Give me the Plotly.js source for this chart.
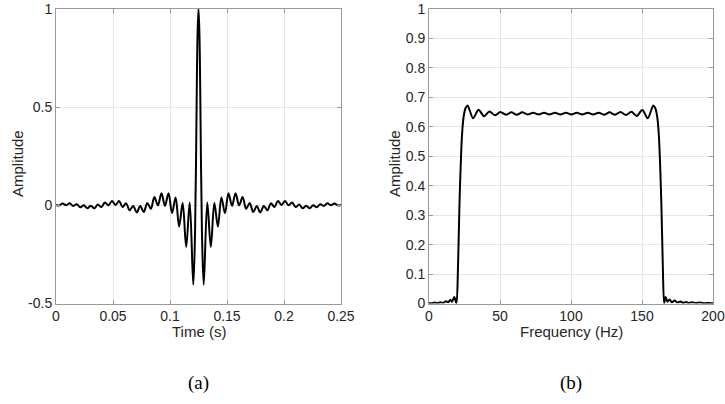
<!DOCTYPE html>
<html><head><meta charset="utf-8">
<script src="https://cdn.plot.ly/plotly-3.0.1.min.js"></script>
<style>html,body{margin:0;padding:0;background:#fff}#chart{width:725px;height:404px}</style>
</head><body><div id="chart"></div>
<script>
// (a) time-domain wavelet (extrema + main lobe)
const timeS = [0, 0.0027, 0.0058, 0.0089, 0.0120, 0.0151, 0.0182, 0.0213, 0.0244, 0.0275, 0.0305,
  0.0336, 0.0367, 0.0398, 0.0429, 0.0460, 0.0491, 0.0522, 0.0553, 0.0584, 0.0615, 0.0646, 0.0677,
  0.0708, 0.0739, 0.0770, 0.0801, 0.0832, 0.0863, 0.0894, 0.0925, 0.0956, 0.0987, 0.1018, 0.1049,
  0.1080, 0.1111, 0.1142, 0.1173, 0.1204, 0.1220, 0.1235, 0.1242, 0.1250, 0.1258, 0.1265, 0.1280,
  0.1296, 0.1327, 0.1358, 0.1389, 0.1420, 0.1451, 0.1482, 0.1513, 0.1544, 0.1575, 0.1606, 0.1637,
  0.1668, 0.1699, 0.1730, 0.1761, 0.1792, 0.1823, 0.1854, 0.1885, 0.1916, 0.1947, 0.1978, 0.2009,
  0.2040, 0.2071, 0.2102, 0.2133, 0.2164, 0.2195, 0.2225, 0.2256, 0.2287, 0.2318, 0.2349, 0.2380,
  0.2411, 0.2442, 0.2473, 0.2500];
const timeAmp = [0.002, -0.001, 0.009, 0.001, 0.010, -0.003, 0.006, -0.010, 0.000, -0.015, -0.002,
  -0.015, 0.004, -0.009, 0.014, 0.000, 0.022, 0.002, 0.022, -0.008, 0.010, -0.025, -0.003,
  -0.036, -0.004, -0.034, 0.012, -0.018, 0.042, 0.000, 0.062, -0.002, 0.062, -0.040, 0.040,
  -0.108, 0.012, -0.212, 0.014, -0.405, -0.130, 0.600, 0.880, 1.000, 0.880, 0.600, -0.130,
  -0.405, 0.014, -0.212, 0.012, -0.108, 0.040, -0.040, 0.062, -0.002, 0.062, 0.000, 0.042,
  -0.018, 0.012, -0.034, -0.004, -0.036, -0.003, -0.025, 0.010, -0.008, 0.022, 0.002, 0.022,
  0.000, 0.014, -0.009, 0.004, -0.015, -0.002, -0.015, 0.000, -0.010, 0.006, -0.003, 0.010,
  0.001, 0.009, -0.001, 0.002];

// (b) amplitude spectrum
const freqHz = [0, 2, 4, 6, 8, 10, 12, 13.5, 15, 16.2, 17.8, 19.3, 20.4, 21.5, 23.2, 24.4, 25.8,
  27.2, 31.04, 34.89, 38.73, 42.58, 46.42, 50.26, 54.11, 57.95, 61.8, 65.64, 69.48, 73.33, 77.17,
  81.02, 84.86, 88.7, 92.55, 96.39, 100.24, 104.08, 107.92, 111.77, 115.61, 119.46, 123.3, 127.14,
  130.99, 134.83, 138.68, 142.52, 146.36, 150.21, 154.05, 157.9,
  159.3, 160.7, 161.9, 163.6, 164.7, 165.6, 166.6, 168, 169.4, 171, 173, 175, 177, 179, 181, 183,
  185, 188, 191, 194, 197, 200];
const specAmp = [0.002, 0.001, 0.003, 0.001, 0.004, 0.002, 0.008, 0.004, 0.013, 0.006, 0.022, 0.001,
  0.12, 0.345, 0.568, 0.635, 0.664,
  0.672, 0.629, 0.658, 0.636, 0.652, 0.639, 0.650, 0.641, 0.649, 0.641, 0.649, 0.642, 0.648, 0.642,
  0.648, 0.642, 0.648, 0.642, 0.648, 0.642, 0.648, 0.642, 0.648, 0.642, 0.648, 0.641, 0.649,
  0.641, 0.650, 0.640, 0.651, 0.637, 0.657, 0.629, 0.672,
  0.664, 0.635, 0.568, 0.345, 0.12, 0.001, 0.022, 0.006, 0.014, 0.004, 0.010, 0.003, 0.007, 0.002,
  0.005, 0.002, 0.004, 0.002, 0.003, 0.001, 0.002, 0.001];

const timeTicks = [0, 0.05, 0.1, 0.15, 0.2, 0.25];
const timeTickText = ['0', '0.05', '0.1', '0.15', '0.2', '0.25'];
const ampTicksA = [-0.5, 0, 0.5, 1];
const ampTickTextA = ['-0.5', '0', '0.5', '1'];
const freqTicks = [0, 50, 100, 150, 200];
const freqTickText = ['0', '50', '100', '150', '200'];
const ampTicksB = [0, 0.1, 0.2, 0.3, 0.4, 0.5, 0.6, 0.7, 0.8, 0.9, 1];
const ampTickTextB = ['0', '0.1', '0.2', '0.3', '0.4', '0.5', '0.6', '0.7', '0.8', '0.9', '1'];

const sans = 'Liberation Sans, Arial, Helvetica, sans-serif';
const serif = 'Liberation Serif, Times New Roman, serif';
const tickFont = {family: sans, size: 14, color: '#262626'};
const titleFont = {family: sans, size: 15, color: '#262626'};

function axisBase() {
  return {
    showline: true, linecolor: '#9a9a9a', linewidth: 1, mirror: 'ticks',
    ticks: 'inside', ticklen: 4, tickcolor: '#9a9a9a', tickwidth: 1,
    showgrid: true, gridcolor: '#e6e6e6', gridwidth: 1, zeroline: false,
    tickfont: tickFont, tickmode: 'array', fixedrange: true, ticklabeloverflow: 'allow'
  };
}

const traces = [
  {x: timeS, y: timeAmp, type: 'scatter', mode: 'lines', xaxis: 'x', yaxis: 'y',
   line: {color: '#000', width: 2, shape: 'spline', smoothing: 1}, hoverinfo: 'skip'},
  {x: freqHz, y: specAmp, type: 'scatter', mode: 'lines', xaxis: 'x2', yaxis: 'y2',
   line: {color: '#000', width: 2, shape: 'spline', smoothing: 0.8}, hoverinfo: 'skip'}
];

const W = 725, H = 404;
function px(x) { return x / W; }
function py(y) { return 1 - y / H; }

const yDom = [py(303.5), py(9)];
const layout = {
  width: W, height: H,
  margin: {l: 0, r: 0, t: 0, b: 0},
  paper_bgcolor: '#fff', plot_bgcolor: '#fff',
  showlegend: false,
  xaxis: Object.assign(axisBase(), {domain: [px(56), px(341)], range: [0, 0.25], anchor: 'y',
    tickvals: timeTicks, ticktext: timeTickText}),
  yaxis: Object.assign(axisBase(), {domain: yDom, range: [-0.5, 1], anchor: 'x',
    tickvals: ampTicksA, ticktext: ampTickTextA}),
  xaxis2: Object.assign(axisBase(), {domain: [px(429), px(713)], range: [0, 200], anchor: 'y2',
    tickvals: freqTicks, ticktext: freqTickText}),
  yaxis2: Object.assign(axisBase(), {domain: yDom, range: [0, 1], anchor: 'x2',
    tickvals: ampTicksB, ticktext: ampTickTextB}),
  annotations: [
    {text: 'Time (s)', xref: 'paper', yref: 'paper', x: px(198.5), y: py(331), showarrow: false,
     xanchor: 'center', yanchor: 'middle', font: titleFont},
    {text: 'Frequency (Hz)', xref: 'paper', yref: 'paper', x: px(571), y: py(331), showarrow: false,
     xanchor: 'center', yanchor: 'middle', font: titleFont},
    {text: 'Amplitude', xref: 'paper', yref: 'paper', x: px(17), y: py(164), showarrow: false,
     textangle: -90, xanchor: 'center', yanchor: 'middle', font: titleFont},
    {text: 'Amplitude', xref: 'paper', yref: 'paper', x: px(394), y: py(164), showarrow: false,
     textangle: -90, xanchor: 'center', yanchor: 'middle', font: titleFont},
    {text: '(a)', xref: 'paper', yref: 'paper', x: px(198.5), y: py(383), showarrow: false,
     xanchor: 'center', yanchor: 'middle', font: {family: serif, size: 19, color: '#000'}},
    {text: '(b)', xref: 'paper', yref: 'paper', x: px(571), y: py(383), showarrow: false,
     xanchor: 'center', yanchor: 'middle', font: {family: serif, size: 19, color: '#000'}}
  ]
};

Plotly.newPlot('chart', traces, layout, {displayModeBar: false, staticPlot: true});
</script>
</body></html>
